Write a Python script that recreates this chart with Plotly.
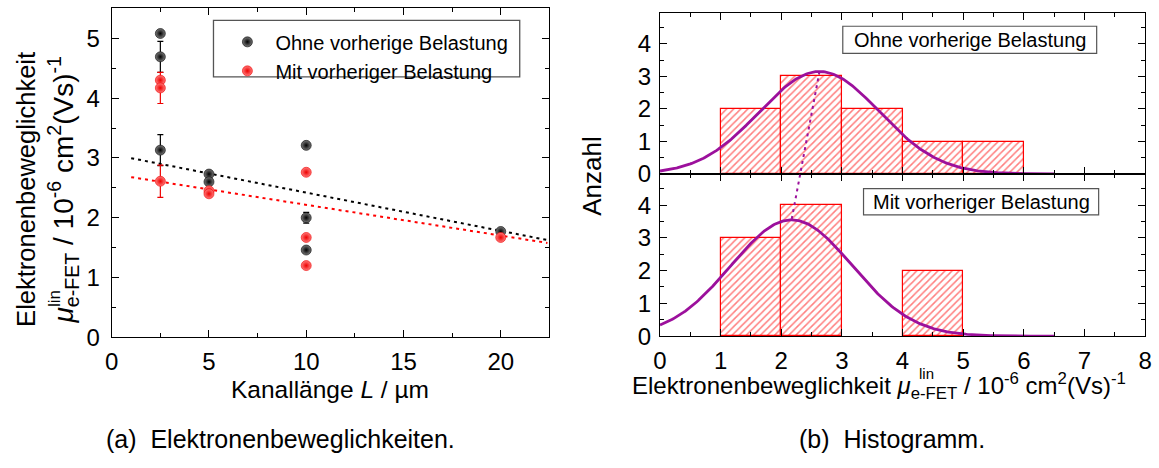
import numpy as np
import plotly.graph_objects as go

W, H = 1159, 468
FONT = "Liberation Sans, Arial, Helvetica, sans-serif"
PURPLE = "#9c109c"

# Kanallänge (µm) und Elektronenbeweglichkeit (1e-6 cm^2/Vs)
L_ohne = [2.5, 2.5, 2.5, 5, 5, 10, 10, 10, 20]
mu_ohne = [5.08, 4.69, 3.13, 2.73, 2.60, 3.21, 2.00, 1.46, 1.77]
err_ohne = [0.05, 0.26, 0.26, 0.03, 0.03, 0.05, 0.09, 0.03, 0.03]

L_mit = [2.5, 2.5, 2.5, 5, 5, 10, 10, 10, 20]
mu_mit = [4.30, 4.17, 2.61, 2.45, 2.40, 2.76, 1.67, 1.20, 1.67]
err_mit = [0.03, 0.26, 0.27, 0.03, 0.03, 0.03, 0.03, 0.03, 0.03]

# lineare Fits (Achsenabschnitt, Steigung) und ihr Bereich
fit_ohne = (3.06, -0.064)
fit_mit = (2.73, -0.0514)
fit_L = [1.0, 22.4]

# Gauß-Fits der Histogramme (Amplitude, Zentrum, Breite)
gauss_ohne = (3.15, 2.63, 0.99)
gauss_mit = (3.55, 2.17, 1.00)
gauss_x = [0.0, 6.5]

# Achsenbereiche
XR_L, YR_L = [0, 22.5], [0, 5.51]
XR_H, YR_H = [0, 8], [0, 4.95]

TICK_SIZE = 24
TITLE_SIZE = 24.5


def px(x):
    return x / W


def py(y):
    return 1 - y / H


# Plotbereiche (Papierkoordinaten)
DX_L = [px(106), px(549)]
DY_L = [py(347), py(8)]
DX_H = [px(661), px(1152)]
DY_UP = [py(179), py(13.3)]
DY_LO = [py(345.7), py(179)]


def minor(step):
    return dict(ticks="inside", ticklen=4, tickwidth=1.2, dtick=step,
                tickcolor="black")


def ax_style(**kw):
    d = dict(
        showline=True, linecolor="black", linewidth=1.3, mirror="allticks",
        ticks="inside", ticklen=7, tickwidth=1.2, tickcolor="black",
        showgrid=False, zeroline=False, tick0=0, ticklabelstandoff=3,
        tickfont=dict(family=FONT, size=TICK_SIZE, color="black"),
    )
    d.update(kw)
    return d


fig = go.Figure()

# lineare Fits
for (a, b), col in [(fit_ohne, "black"), (fit_mit, "red")]:
    xs = np.array(fit_L)
    fig.add_trace(go.Scatter(
        x=xs, y=a + b * xs, mode="lines", showlegend=False,
        line=dict(color=col, width=2, dash="3px,4px"),
        xaxis="x", yaxis="y", hoverinfo="skip"))

# Messpunkte
for xs, ys, es, col, edge, name in [
    (L_ohne, mu_ohne, err_ohne, "#7a7a7a", "black", "Ohne vorherige Belastung"),
    (L_mit, mu_mit, err_mit, "#ff7a7a", "#ee0000", "Mit vorheriger Belastung"),
]:
    fig.add_trace(go.Scatter(
        x=xs, y=ys, mode="markers", name=name,
        marker=dict(size=10, color=col, line=dict(width=0.6, color=edge),
                    gradient=dict(type="radial", color=edge)),
        error_y=dict(type="data", array=es, color=edge, thickness=1.2, width=3),
        xaxis="x", yaxis="y"))

# Histogramme
for vals, xa, ya in [(mu_ohne, "x2", "y2"), (mu_mit, "x3", "y3")]:
    fig.add_trace(go.Histogram(
        x=vals, xbins=dict(start=0, end=8, size=1), autobinx=False,
        marker=dict(color="white", line=dict(color="red", width=1.2),
                    pattern=dict(shape="/", fgcolor="red", bgcolor="white",
                                 size=5, solidity=0.3)),
        showlegend=False, xaxis=xa, yaxis=ya))

# Gauß-Kurven
gx = np.linspace(gauss_x[0], gauss_x[1], 300)
for (A, c, w), xa, ya in [(gauss_ohne, "x2", "y2"), (gauss_mit, "x3", "y3")]:
    fig.add_trace(go.Scatter(
        x=gx, y=A * np.exp(-(gx - c) ** 2 / (2 * w ** 2)), mode="lines",
        line=dict(color=PURPLE, width=2.8), showlegend=False,
        xaxis=xa, yaxis=ya, hoverinfo="skip"))


def to_paper(v, dom, rng):
    return dom[0] + (v - rng[0]) / (rng[1] - rng[0]) * (dom[1] - dom[0])


# Verbindungslinie der beiden Maxima
shapes = [dict(
    type="line", xref="paper", yref="paper",
    x0=to_paper(gauss_ohne[1], DX_H, XR_H), y0=to_paper(gauss_ohne[0], DY_UP, YR_H),
    x1=to_paper(gauss_mit[1], DX_H, XR_H), y1=to_paper(gauss_mit[0], DY_LO, YR_H),
    line=dict(color=PURPLE, width=2, dash="3px,4px"), layer="above")]

# Legendenrahmen und Textkästen
shapes.append(dict(type="rect", xref="paper", yref="paper",
                   x0=px(209), x1=px(519), y0=py(79), y1=py(21),
                   line=dict(color="#555555", width=1.3)))
shapes.append(dict(type="rect", xref="paper", yref="paper",
                   x0=px(846), x1=px(1103), y0=py(55), y1=py(27),
                   line=dict(color="#555555", width=1.2), fillcolor="white"))
shapes.append(dict(type="rect", xref="paper", yref="paper",
                   x0=px(867), x1=px(1105), y0=py(221), y1=py(194),
                   line=dict(color="#555555", width=1.2), fillcolor="white"))


def ann(text, x, y, size, angle=0, xanchor="center", yanchor="middle"):
    return dict(text=text, x=px(x), y=py(y), xref="paper", yref="paper",
                showarrow=False, textangle=angle, xanchor=xanchor,
                yanchor=yanchor, font=dict(family=FONT, size=size, color="black"))


UNIT = "/ 10<sup>-6</sup> cm<sup>2</sup>(Vs)<sup>-1</sup>"

annotations = [
    ann("Ohne vorherige Belastung", 974.5, 41, 20),
    ann("Mit vorheriger Belastung", 986, 208, 20),
    # y-Titel links, zweizeilig
    ann("Elektronenbeweglichkeit", 19, 338, 25.5, angle=-90, yanchor="bottom"),
    ann("<i>μ</i><sub>e-FET</sub> " + UNIT, 57, 335, 28, angle=-90,
        yanchor="bottom"),
    ann("lin", 48, 318, 17, angle=-90, yanchor="bottom"),
    ann("Kanallänge <i>L</i> / µm", 327, 401, TITLE_SIZE),
    ann("Anzahl", 592, 181, 26, angle=-90),
    ann("Elektronenbeweglichkeit <i>μ</i><sub>e-FET</sub> " + UNIT,
        631, 397, 24, xanchor="left"),
    ann("lin", 921, 384, 15, xanchor="left"),
    ann("(a)  Elektronenbeweglichkeiten.", 277, 452, 25),
    ann("(b)  Histogramm.", 896, 452, 25),
]

fig.update_layout(
    width=W, height=H, margin=dict(l=0, r=0, t=0, b=0),
    paper_bgcolor="white", plot_bgcolor="white",
    font=dict(family=FONT, color="black"),
    barmode="overlay", bargap=0,
    xaxis=ax_style(domain=DX_L, range=XR_L, anchor="y", dtick=5,
                   minor=minor(2.5)),
    yaxis=ax_style(domain=DY_L, range=YR_L, anchor="x", dtick=1,
                   minor=minor(0.5), ticklabelstandoff=6),
    xaxis2=ax_style(domain=DX_H, range=XR_H, anchor="y2", dtick=1,
                    matches="x3", showticklabels=False, minor=minor(0.5)),
    yaxis2=ax_style(domain=DY_UP, range=YR_H, anchor="x2", dtick=1,
                    minor=minor(0.5)),
    xaxis3=ax_style(domain=DX_H, range=XR_H, anchor="y3", dtick=1,
                    minor=minor(0.5)),
    yaxis3=ax_style(domain=DY_LO, range=YR_H, anchor="x3", dtick=1,
                    minor=minor(0.5)),
    legend=dict(x=px(215), y=py(23), xanchor="left", yanchor="top",
                bgcolor="rgba(0,0,0,0)", borderwidth=0, itemwidth=46,
                font=dict(family=FONT, size=20, color="black")),
    shapes=shapes,
    annotations=annotations,
)

fig.write_html("out.html")
